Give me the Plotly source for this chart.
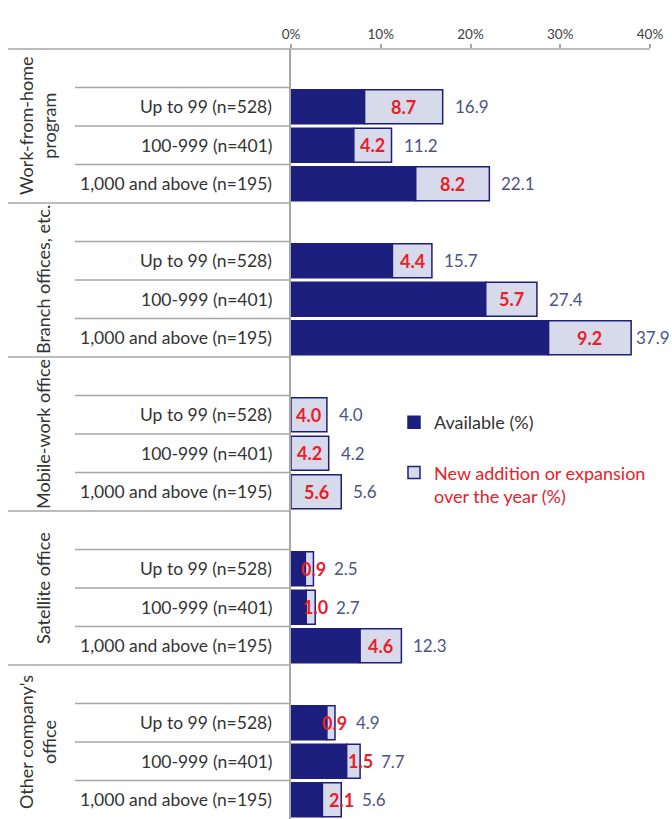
import plotly.graph_objects as go

# ---- data ---------------------------------------------------------------
groups = [
    "Work-from-home<br>program",
    "Branch offices, etc.",
    "Mobile-work office",
    "Satellite office",
    "Other company's<br>office",
]
sizes = ["Up to 99 (n=528)", "100-999 (n=401)", "1,000 and above (n=195)"]

# share of companies with the arrangement (%), per group and company size
total_pct = [
    [16.9, 11.2, 22.1],
    [15.7, 27.4, 37.9],
    [4.0, 4.2, 5.6],
    [2.5, 2.7, 12.3],
    [4.9, 7.7, 5.6],
]
# of which newly added or expanded over the year (%)
new_pct = [
    [8.7, 4.2, 8.2],
    [4.4, 5.7, 9.2],
    [4.0, 4.2, 5.6],
    [0.9, 1.0, 4.6],
    [0.9, 1.5, 2.1],
]
tick_vals = [0, 10, 20, 30, 40]
tick_text = ["0%", "10%", "20%", "30%", "40%"]

# ---- styling ------------------------------------------------------------
NAVY = "#1c1f7d"
LIGHT = "#d7daeb"
RED = "#e8202a"
VALUE_GREY = "#4e5288"
TEXT = "#333333"
RULE = "#a6a6a6"
FONT = "Lato"

W, H = 672, 819
M_L, M_T = 291, 49
plot_w = W - M_L
plot_h = H - M_T
px_per_pct = 8.975
SLOTS_PER_GROUP = 4  # one blank slot above each group's three rows
VALUE_LABEL_W = 38   # approx. pixel width of a "00.0" value label

# flatten rows: y slot index, values
ys, base_avail, seg_new, totals, news, cats = [], [], [], [], [], []
for g, grp in enumerate(groups):
    for i, s in enumerate(sizes):
        y = g * SLOTS_PER_GROUP + 1 + i
        t = total_pct[g][i]
        n = new_pct[g][i]
        ys.append(y)
        base_avail.append(round(t - n, 2))
        seg_new.append(n)
        totals.append(t)
        news.append(n)
        cats.append(s)

n_slots = len(groups) * SLOTS_PER_GROUP

fig = go.Figure()
fig.add_trace(go.Bar(
    y=ys, x=base_avail, base=[0] * len(ys), orientation="h",
    width=0.88, name="Available (%)", legendgroup="a",
    marker=dict(color=NAVY, line=dict(color=NAVY, width=1.5)),
    hoverinfo="skip",
))
fig.add_trace(go.Bar(
    y=ys, x=seg_new, base=base_avail, orientation="h",
    width=0.88,
    name=f"<span style='color:{RED}'>New addition or expansion<br>over the year (%)</span>",
    legendgroup="b",
    marker=dict(color=LIGHT, line=dict(color=NAVY, width=1.5)),
    hoverinfo="skip",
))

annotations = []
for y, b, n, t, c in zip(ys, base_avail, news, totals, cats):
    narrow = n < 3
    # red label for the new-addition segment
    lx = t if narrow else b + n / 2
    annotations.append(dict(
        x=lx, y=y, xref="x", yref="y", text=f"<b>{n:.1f}</b>",
        showarrow=False, xanchor="center", yanchor="middle",
        font=dict(family=FONT, size=18, color=RED),
    ))
    # total value at the bar end, kept inside the canvas
    room = W - (M_L + t * px_per_pct) - VALUE_LABEL_W
    shift = 19 if narrow else min(10, max(1, room))
    annotations.append(dict(
        x=t, y=y, xref="x", yref="y", text=f"{t:.1f}",
        showarrow=False, xanchor="left", yanchor="middle",
        xshift=shift,
        font=dict(family=FONT, size=17, color=VALUE_GREY),
    ))
    # row label
    annotations.append(dict(
        x=0, y=y, xref="paper", yref="y", text=c,
        showarrow=False, xanchor="right", yanchor="middle", xshift=-17,
        font=dict(family=FONT, size=17.5, color=TEXT),
    ))

for g, grp in enumerate(groups):
    annotations.append(dict(
        x=0, y=g * SLOTS_PER_GROUP + 1.5, xref="paper", yref="y",
        text=grp, textangle=-90, showarrow=False,
        xanchor="center", yanchor="middle",
        xshift=-254 if "<br>" in grp else -248,
        font=dict(family=FONT, size=18, color=TEXT),
    ))

shapes = []
x_left_full = (8 - M_L) / plot_w
x_left_row = (75 - M_L) / plot_w
x_axis_end = (650 - M_L) / plot_w
# top axis line across the whole table
shapes.append(dict(type="line", xref="paper", yref="paper",
                   x0=x_left_full, x1=x_axis_end, y0=1, y1=1,
                   line=dict(color=RULE, width=1.5)))
for g in range(len(groups)):
    top = g * SLOTS_PER_GROUP - 0.5
    if g > 0:
        shapes.append(dict(type="line", xref="paper", yref="y",
                           x0=x_left_full, x1=0, y0=top, y1=top,
                           line=dict(color=RULE, width=1.5)))
    for i in range(len(sizes)):
        yl = top + 1 + i
        shapes.append(dict(type="line", xref="paper", yref="y",
                           x0=x_left_row, x1=0, y0=yl, y1=yl,
                           line=dict(color=RULE, width=1.5)))

fig.update_layout(
    width=W, height=H,
    margin=dict(l=M_L, r=0, t=M_T, b=0, pad=0),
    paper_bgcolor="white", plot_bgcolor="white",
    barmode="overlay",
    showlegend=True,
    legend=dict(
        x=(394 - M_L) / plot_w, y=1 - (404 - M_T) / plot_h,
        xanchor="left", yanchor="top",
        bgcolor="rgba(0,0,0,0)", traceorder="grouped",
        tracegroupgap=24, valign="top",
        font=dict(family=FONT, size=18, color=TEXT),
    ),
    xaxis=dict(
        side="top", range=[0, plot_w / px_per_pct],
        tickvals=tick_vals, ticktext=tick_text,
        ticks="outside", ticklen=4, tickcolor=RULE, tickwidth=1.5,
        tickfont=dict(family=FONT, size=13.5, color="#404040"),
        showgrid=False, zeroline=False, showline=False,
        fixedrange=True,
    ),
    yaxis=dict(
        range=[n_slots - 0.5, -0.5],
        showticklabels=False, ticks="",
        showgrid=False, zeroline=False,
        showline=True, linecolor=RULE, linewidth=1.5,
        fixedrange=True,
    ),
    annotations=annotations,
    shapes=shapes,
    font=dict(family=FONT),
)

fig.write_html("out.html")
